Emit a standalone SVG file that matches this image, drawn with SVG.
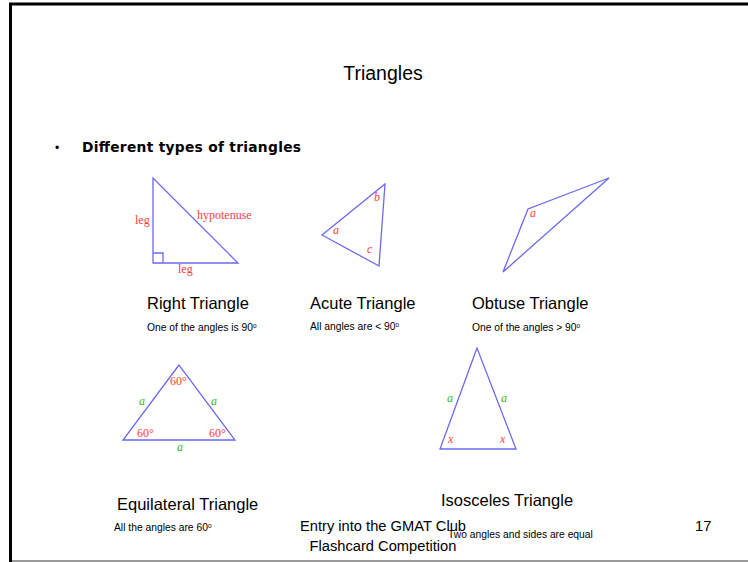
<svg xmlns="http://www.w3.org/2000/svg" width="748" height="562" viewBox="0 0 748 562">
<style>
.tri{fill:none;stroke:#6a6af0;stroke-width:1.3}
.lbl{font-family:"Liberation Serif",serif;font-size:12px;fill:#ff4040}
.it{font-style:italic}
.g{fill:#33bb33}
.h{font-family:"Liberation Sans",Arial,sans-serif;font-size:16.5px;fill:#000}
.s{font-family:"Liberation Sans",Arial,sans-serif;font-size:10.3px;fill:#000}
.f{font-family:"Liberation Sans",Arial,sans-serif;font-size:14.7px;fill:#000}
</style>
<rect width="748" height="562" fill="#fff"/>
<g id="frame">
<line x1="10.5" y1="4" x2="10.5" y2="562" stroke="#000" stroke-width="3"/>
<line x1="9" y1="4" x2="748" y2="4" stroke="#000" stroke-width="3"/>
<line x1="12" y1="561" x2="748" y2="561" stroke="#999" stroke-width="2"/>
</g>
<text x="383" y="80" text-anchor="middle" class="h" style="font-size:19.5px">Triangles</text>
<text x="55" y="152" class="f" style="font-size:12px">•</text>
<text x="82" y="152" font-family="'DejaVu Sans',Verdana,sans-serif" font-size="13.8" font-weight="bold" textLength="219" lengthAdjust="spacing">Different types of triangles</text>
<g id="right">
<polygon class="tri" points="153,178 153,263 238,263"/>
<polyline class="tri" points="153,253 163,253 163,263"/>
<text x="135" y="224" class="lbl">leg</text>
<text x="197" y="219" class="lbl">hypotenuse</text>
<text x="178" y="273" class="lbl">leg</text>
<text x="147" y="309" class="h">Right Triangle</text>
<text x="147" y="331" class="s">One of the angles is 90<tspan font-size="6.5" dy="-3">o</tspan></text>
</g>
<g id="acute">
<polygon class="tri" points="322,235 385,184 379,266"/>
<text x="333" y="234" class="lbl it">a</text>
<text x="374" y="201" class="lbl it">b</text>
<text x="367" y="253" class="lbl it">c</text>
<text x="310" y="309" class="h">Acute Triangle</text>
<text x="310" y="330" class="s">All angles are &lt; 90<tspan font-size="6.5" dy="-3">o</tspan></text>
</g>
<g id="obtuse">
<polygon class="tri" points="609,178 528,209 503,272"/>
<text x="530" y="217" class="lbl it">a</text>
<text x="472" y="309" class="h">Obtuse Triangle</text>
<text x="472" y="331" class="s">One of the angles &gt; 90<tspan font-size="6.5" dy="-3">o</tspan></text>
</g>
<g id="equilateral">
<polygon class="tri" points="179,365 123,440 235,440"/>
<text x="170" y="385" class="lbl">60°</text>
<text x="137" y="437" class="lbl">60°</text>
<text x="209" y="437" class="lbl">60°</text>
<text x="139" y="405" class="lbl it g">a</text>
<text x="211" y="405" class="lbl it g">a</text>
<text x="177" y="451" class="lbl it g">a</text>
<text x="117" y="510" class="h">Equilateral Triangle</text>
<text x="114" y="531" class="s">All the angles are 60<tspan font-size="6.5" dy="-3">o</tspan></text>
</g>
<g id="isosceles">
<polygon class="tri" points="477,348 440,449 516,449"/>
<text x="447" y="402" class="lbl it g">a</text>
<text x="501" y="402" class="lbl it g">a</text>
<text x="448" y="443" class="lbl it">x</text>
<text x="500" y="443" class="lbl it">x</text>
<text x="441" y="506" class="h">Isosceles Triangle</text>
<text x="448" y="538" class="s">Two angles and sides are equal</text>
</g>
<g id="footer">
<text x="300" y="531" class="f">Entry into the GMAT Club</text>
<text x="383" y="551" text-anchor="middle" class="f">Flashcard Competition</text>
<text x="695" y="531" class="f">17</text>
</g>
<g id="connectors"/>
</svg>
